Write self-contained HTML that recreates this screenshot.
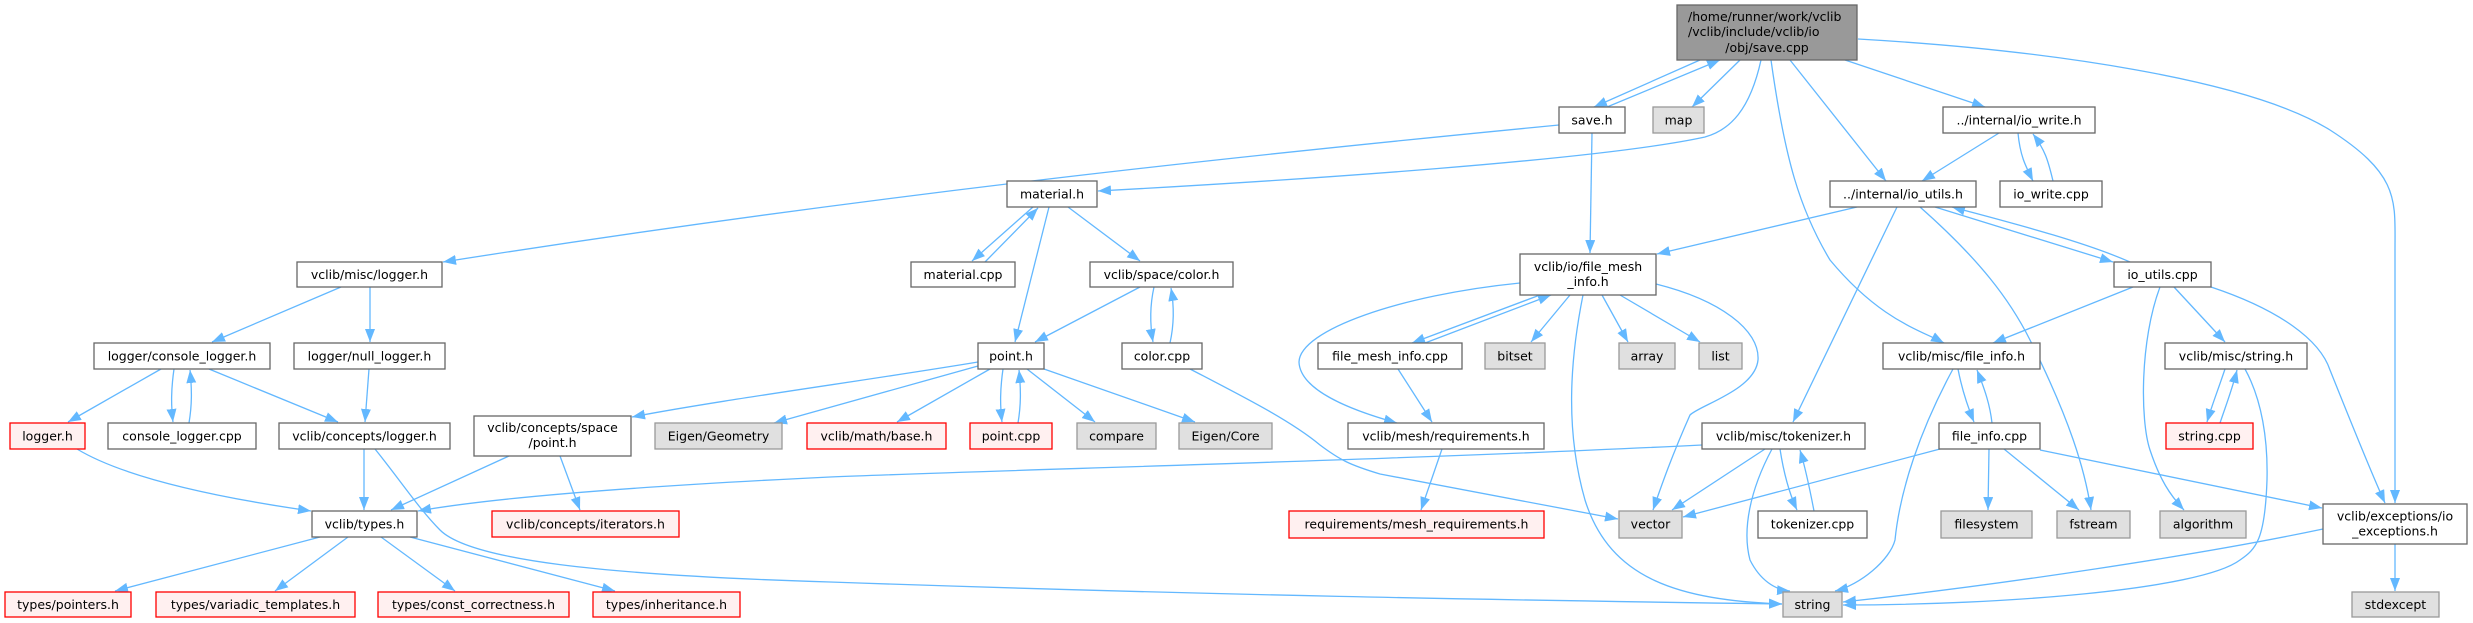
<!DOCTYPE html>
<html><head><meta charset="utf-8"><style>
html,body{margin:0;padding:0;background:#fff;}
svg{display:block;}
text{font-family:"DejaVu Sans","Liberation Sans",sans-serif;font-size:12.5px;fill:#000;}
.n rect{fill:#fff;stroke:#666;stroke-width:1.3;}
.g rect{fill:#e0e0e0;stroke:#999;stroke-width:1.3;}
.r rect{fill:#fff0f0;stroke:#f00;stroke-width:1.3;}
.d rect{fill:#999;stroke:#666;stroke-width:1.3;}
.e path{fill:none;stroke:#63b8ff;stroke-width:1.3;marker-end:url(#a);}
</style></head><body>
<svg width="2473" height="623" viewBox="0 0 2473 623" xmlns="http://www.w3.org/2000/svg">
<defs><marker id="a" markerUnits="userSpaceOnUse" markerWidth="14" markerHeight="11" refX="13" refY="5" orient="auto"><path d="M0,0 L13,5 L0,10 z" fill="#63b8ff"/></marker></defs>
<g class="e">
<path d="M1700,60 L1594,107"/>
<path d="M1607,107 L1720,60"/>
<path d="M1740,60 L1692,107"/>
<path d="M1761,60 C1750,110 1730,130 1705,137 C1600,160 1300,180 1098,191"/>
<path d="M1771,60 C1785,160 1800,210 1830,260 C1880,320 1920,330 1944,343"/>
<path d="M1790,60 L1886,181"/>
<path d="M1845,60 L1985,107"/>
<path d="M1858,39 C2050,50 2250,80 2330,130 C2400,175 2395,200 2395,250 L2395,503"/>
<path d="M1559,125 C1300,150 900,190 443,262"/>
<path d="M1592,133 L1590,253"/>
<path d="M1999,133 L1922,181"/>
<path d="M2018,133 C2020,155 2025,165 2033,181"/>
<path d="M2053,181 C2048,160 2045,150 2033,134"/>
<path d="M1857,207 L1657,254"/>
<path d="M1897,207 L1793,422"/>
<path d="M1920,207 C1980,260 2010,300 2030,340 C2070,420 2085,470 2091,510"/>
<path d="M1935,207 L2113,262"/>
<path d="M2130,262 C2080,240 2000,220 1952,207"/>
<path d="M2133,287 L1993,343"/>
<path d="M2174,287 L2225,342"/>
<path d="M2160,287 C2140,340 2140,420 2150,450 C2160,480 2170,495 2184,510"/>
<path d="M2211,287 C2280,310 2320,340 2330,370 C2350,420 2370,470 2385,503"/>
<path d="M1520,283 C1400,295 1300,330 1299,362 C1300,390 1350,410 1397,423"/>
<path d="M1540,295 L1412,343"/>
<path d="M1425,343 L1551,295"/>
<path d="M1570,295 L1531,342"/>
<path d="M1602,295 L1628,342"/>
<path d="M1620,295 L1700,342"/>
<path d="M1656,284 C1720,300 1760,330 1758,360 C1755,390 1700,405 1690,415 C1670,460 1660,490 1653,510"/>
<path d="M1583,295 C1570,360 1565,430 1585,500 C1610,580 1680,600 1782,604"/>
<path d="M1398,369 L1432,422"/>
<path d="M1442,449 L1421,510"/>
<path d="M1033,207 L972,261"/>
<path d="M985,262 L1038,208"/>
<path d="M1068,207 L1140,261"/>
<path d="M1049,207 L1015,342"/>
<path d="M1140,287 L1035,342"/>
<path d="M1154,287 C1150,305 1150,325 1153,342"/>
<path d="M1170,343 C1174,325 1174,305 1171,288"/>
<path d="M1190,369 C1240,395 1290,420 1320,445 C1340,460 1350,465 1380,474 L1618,519"/>
<path d="M978,362 C870,380 720,400 632,417"/>
<path d="M978,366 L774,423"/>
<path d="M990,369 L897,422"/>
<path d="M1003,369 C1000,390 1000,405 1002,422"/>
<path d="M1018,423 C1021,405 1021,390 1019,370"/>
<path d="M1027,369 L1095,422"/>
<path d="M1044,369 L1195,422"/>
<path d="M509,456 L391,510"/>
<path d="M560,456 L580,510"/>
<path d="M341,287 L212,342"/>
<path d="M370,287 L370,342"/>
<path d="M161,369 L68,422"/>
<path d="M174,369 C171,390 171,405 173,422"/>
<path d="M189,423 C192,405 192,390 190,370"/>
<path d="M209,369 L338,422"/>
<path d="M369,369 L365,422"/>
<path d="M364,449 L364,510"/>
<path d="M375,449 C400,480 420,510 440,530 C470,560 600,575 830,582 C1200,595 1500,600 1782,604"/>
<path d="M77,449 C120,475 200,495 311,511"/>
<path d="M320,537 L115,591"/>
<path d="M348,537 L275,591"/>
<path d="M381,537 L455,591"/>
<path d="M410,537 L615,591"/>
<path d="M1702,445 C1400,460 1000,470 830,477 C600,488 480,500 418,511"/>
<path d="M1765,449 L1672,510"/>
<path d="M1772,449 C1750,490 1742,530 1750,560 C1760,580 1775,590 1790,591"/>
<path d="M1780,449 C1784,475 1790,495 1797,510"/>
<path d="M1814,511 C1810,490 1806,470 1800,450"/>
<path d="M1953,369 C1920,430 1900,490 1895,540 C1890,560 1860,585 1835,591"/>
<path d="M1958,369 C1962,390 1967,405 1974,422"/>
<path d="M1992,423 C1990,405 1985,390 1977,370"/>
<path d="M1940,449 L1683,517"/>
<path d="M1989,449 L1988,510"/>
<path d="M2004,449 L2079,510"/>
<path d="M2040,450 L2322,508"/>
<path d="M2225,369 C2218,390 2212,405 2207,422"/>
<path d="M2220,423 C2226,405 2232,390 2237,370"/>
<path d="M2245,369 C2262,400 2268,440 2267,480 C2265,540 2256,549 2240,560 C2200,590 2000,605 1843,605"/>
<path d="M2323,529 C2200,555 2000,585 1843,602"/>
<path d="M2395,544 L2395,591"/>
</g>
<g class="d"><rect x="1677" y="5" width="180" height="55"/><text x="1688" y="21">/home/runner/work/vclib</text><text x="1688" y="36">/vclib/include/vclib/io</text><text x="1767" y="52" text-anchor="middle">/obj/save.cpp</text></g>
<g class="g"><rect x="1653" y="107" width="51" height="26"/><text x="1678.5" y="124.5" text-anchor="middle">map</text></g>
<g class="n"><rect x="1559" y="107" width="66" height="26"/><text x="1592" y="124.5" text-anchor="middle">save.h</text></g>
<g class="n"><rect x="1943" y="107" width="152" height="26"/><text x="2019" y="124.5" text-anchor="middle">../internal/io_write.h</text></g>
<g class="n"><rect x="1830" y="181" width="146" height="26"/><text x="1903" y="198.5" text-anchor="middle">../internal/io_utils.h</text></g>
<g class="n"><rect x="2000" y="181" width="102" height="26"/><text x="2051" y="198.5" text-anchor="middle">io_write.cpp</text></g>
<g class="n"><rect x="1007" y="181" width="90" height="26"/><text x="1052" y="198.5" text-anchor="middle">material.h</text></g>
<g class="n"><rect x="297" y="262" width="145" height="25"/><text x="369.5" y="279" text-anchor="middle">vclib/misc/logger.h</text></g>
<g class="n"><rect x="911" y="262" width="104" height="25"/><text x="963" y="279" text-anchor="middle">material.cpp</text></g>
<g class="n"><rect x="1090" y="262" width="143" height="25"/><text x="1161.5" y="279" text-anchor="middle">vclib/space/color.h</text></g>
<g class="n"><rect x="1520" y="254" width="136" height="41"/><text x="1588" y="271" text-anchor="middle">vclib/io/file_mesh</text><text x="1588" y="286" text-anchor="middle">_info.h</text></g>
<g class="n"><rect x="2114" y="262" width="97" height="25"/><text x="2162.5" y="279" text-anchor="middle">io_utils.cpp</text></g>
<g class="n"><rect x="94" y="343" width="176" height="26"/><text x="182" y="360.5" text-anchor="middle">logger/console_logger.h</text></g>
<g class="n"><rect x="294" y="343" width="151" height="26"/><text x="369.5" y="360.5" text-anchor="middle">logger/null_logger.h</text></g>
<g class="n"><rect x="978" y="343" width="66" height="26"/><text x="1011" y="360.5" text-anchor="middle">point.h</text></g>
<g class="n"><rect x="1122" y="343" width="80" height="26"/><text x="1162" y="360.5" text-anchor="middle">color.cpp</text></g>
<g class="n"><rect x="1318" y="343" width="144" height="26"/><text x="1390" y="360.5" text-anchor="middle">file_mesh_info.cpp</text></g>
<g class="g"><rect x="1485" y="343" width="60" height="26"/><text x="1515" y="360.5" text-anchor="middle">bitset</text></g>
<g class="g"><rect x="1619" y="343" width="56" height="26"/><text x="1647" y="360.5" text-anchor="middle">array</text></g>
<g class="g"><rect x="1699" y="343" width="43" height="26"/><text x="1720.5" y="360.5" text-anchor="middle">list</text></g>
<g class="n"><rect x="1883" y="343" width="157" height="26"/><text x="1961.5" y="360.5" text-anchor="middle">vclib/misc/file_info.h</text></g>
<g class="n"><rect x="2165" y="343" width="142" height="26"/><text x="2236" y="360.5" text-anchor="middle">vclib/misc/string.h</text></g>
<g class="r"><rect x="10" y="423" width="75" height="26"/><text x="47.5" y="440.5" text-anchor="middle">logger.h</text></g>
<g class="n"><rect x="108" y="423" width="148" height="26"/><text x="182" y="440.5" text-anchor="middle">console_logger.cpp</text></g>
<g class="n"><rect x="279" y="423" width="171" height="26"/><text x="364.5" y="440.5" text-anchor="middle">vclib/concepts/logger.h</text></g>
<g class="n"><rect x="474" y="416" width="157" height="40"/><text x="552.5" y="432" text-anchor="middle">vclib/concepts/space</text><text x="552.5" y="447" text-anchor="middle">/point.h</text></g>
<g class="g"><rect x="655" y="423" width="127" height="26"/><text x="718.5" y="440.5" text-anchor="middle">Eigen/Geometry</text></g>
<g class="r"><rect x="807" y="423" width="139" height="26"/><text x="876.5" y="440.5" text-anchor="middle">vclib/math/base.h</text></g>
<g class="r"><rect x="970" y="423" width="82" height="26"/><text x="1011" y="440.5" text-anchor="middle">point.cpp</text></g>
<g class="g"><rect x="1077" y="423" width="79" height="26"/><text x="1116.5" y="440.5" text-anchor="middle">compare</text></g>
<g class="g"><rect x="1179" y="423" width="93" height="26"/><text x="1225.5" y="440.5" text-anchor="middle">Eigen/Core</text></g>
<g class="n"><rect x="1348" y="423" width="196" height="26"/><text x="1446" y="440.5" text-anchor="middle">vclib/mesh/requirements.h</text></g>
<g class="n"><rect x="1702" y="423" width="163" height="26"/><text x="1783.5" y="440.5" text-anchor="middle">vclib/misc/tokenizer.h</text></g>
<g class="n"><rect x="1939" y="423" width="101" height="26"/><text x="1989.5" y="440.5" text-anchor="middle">file_info.cpp</text></g>
<g class="r"><rect x="2166" y="423" width="87" height="26"/><text x="2209.5" y="440.5" text-anchor="middle">string.cpp</text></g>
<g class="n"><rect x="312" y="511" width="105" height="26"/><text x="364.5" y="528.5" text-anchor="middle">vclib/types.h</text></g>
<g class="r"><rect x="492" y="511" width="187" height="26"/><text x="585.5" y="528.5" text-anchor="middle">vclib/concepts/iterators.h</text></g>
<g class="r"><rect x="1289" y="511" width="255" height="27"/><text x="1416.5" y="528.5" text-anchor="middle">requirements/mesh_requirements.h</text></g>
<g class="g"><rect x="1619" y="511" width="63" height="27"/><text x="1650.5" y="528.5" text-anchor="middle">vector</text></g>
<g class="n"><rect x="1758" y="511" width="109" height="27"/><text x="1812.5" y="528.5" text-anchor="middle">tokenizer.cpp</text></g>
<g class="g"><rect x="1941" y="511" width="91" height="27"/><text x="1986.5" y="528.5" text-anchor="middle">filesystem</text></g>
<g class="g"><rect x="2057" y="511" width="73" height="27"/><text x="2093.5" y="528.5" text-anchor="middle">fstream</text></g>
<g class="g"><rect x="2160" y="511" width="86" height="27"/><text x="2203" y="528.5" text-anchor="middle">algorithm</text></g>
<g class="n"><rect x="2323" y="504" width="144" height="40"/><text x="2395" y="520.5" text-anchor="middle">vclib/exceptions/io</text><text x="2395" y="535.5" text-anchor="middle">_exceptions.h</text></g>
<g class="r"><rect x="5" y="592" width="126" height="25"/><text x="68" y="609" text-anchor="middle">types/pointers.h</text></g>
<g class="r"><rect x="156" y="592" width="199" height="25"/><text x="255.5" y="609" text-anchor="middle">types/variadic_templates.h</text></g>
<g class="r"><rect x="378" y="592" width="191" height="25"/><text x="473.5" y="609" text-anchor="middle">types/const_correctness.h</text></g>
<g class="r"><rect x="593" y="592" width="147" height="25"/><text x="666.5" y="609" text-anchor="middle">types/inheritance.h</text></g>
<g class="g"><rect x="1783" y="592" width="59" height="25"/><text x="1812.5" y="609" text-anchor="middle">string</text></g>
<g class="g"><rect x="2352" y="592" width="87" height="25"/><text x="2395.5" y="609" text-anchor="middle">stdexcept</text></g>
</svg>
</body></html>
